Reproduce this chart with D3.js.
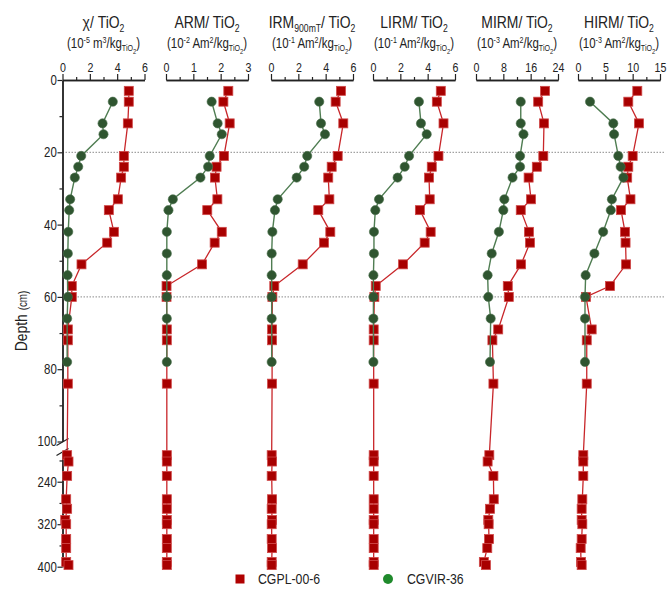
<!DOCTYPE html>
<html>
<head>
<meta charset="utf-8">
<script src="https://cdn.jsdelivr.net/npm/d3@7"></script>
<style>
  body { margin: 0; background: #fff; }
  svg text { font-family: "Liberation Sans", Arial, sans-serif; fill: #222; }
</style>
</head>
<body>
<svg id="chart" width="667" height="606"></svg>
<script>
// depths (cm)
var redDepth   = [3, 6, 12, 21, 24, 27, 33, 36, 42, 45, 51, 57, 60, 69, 72, 84, 190, 202, 229, 273, 291, 312, 320, 348, 365, 391, 397];
var greenDepth = [6, 12, 15, 21, 24, 27, 33, 36, 42, 48, 54, 60, 66, 78];

// CGPL-00-6
var redChi  = [4.85, 4.85, 4.78, 4.49, 4.49, 4.29, 4.05, 3.39, 3.76, 3.27, 1.39, 0.68, 0.68, 0.39, 0.39, 0.39, 0.34, 0.44, 0.34, 0.27, 0.34, 0.2, 0.27, 0.27, 0.27, 0.27, 0.44];
var redArm  = [2.28, 2.1, 2.33, 2.12, 1.85, 1.79, 1.88, 1.51, 2.04, 1.78, 1.32, 0.02, 0.02, 0.03, 0.03, 0.03, 0.03, 0.03, 0.03, 0.03, 0.03, 0.03, 0.03, 0.03, 0.03, 0.03, 0.03];
var redIrm  = [5.12, 4.73, 5.29, 4.88, 4.44, 4.19, 4.27, 3.46, 4.34, 3.88, 2.32, 0.24, 0.1, 0.08, 0.08, 0.08, 0.05, 0.08, 0.05, 0.08, 0.05, 0.08, 0.05, 0.05, 0.08, 0.05, 0.05];
var redLirm = [4.96, 4.67, 5.16, 4.79, 4.3, 4.1, 4.15, 3.43, 4.22, 3.78, 2.2, 0.2, 0.1, 0.05, 0.05, 0.05, 0.05, 0.05, 0.05, 0.05, 0.05, 0.05, 0.05, 0.05, 0.05, 0.05, 0.05];
var redMirm = [20.2, 18.2, 19.9, 19.7, 17.8, 15.4, 16.1, 13.1, 15.5, 15.8, 13.2, 9.3, 9.6, 6.5, 4.8, 5.1, 3.9, 3.4, 5.1, 5.2, 4.1, 3.6, 3.7, 3.8, 3.3, 2.3, 2.9];
var redHirm = [10.85, 9.2, 11.16, 10.0, 9.2, 9.0, 9.6, 7.87, 8.6, 8.7, 8.8, 5.85, 1.46, 2.5, 1.6, 1.6, 0.97, 0.97, 0.97, 0.79, 0.67, 0.67, 0.79, 0.67, 0.49, 0.55, 0.67];

// CGVIR-36
var greenChi  = [3.68, 2.93, 3.0, 1.37, 1.15, 0.9, 0.56, 0.49, 0.42, 0.39, 0.37, 0.39, 0.34, 0.34];
var greenArm  = [1.67, 1.89, 2.04, 1.6, 1.54, 1.26, 0.25, 0.09, 0.03, 0.03, 0.03, 0.03, 0.03, 0.03];
var greenIrm  = [3.53, 3.66, 3.95, 2.65, 2.43, 1.88, 0.49, 0.29, 0.1, 0.05, 0.05, 0.05, 0.05, 0.05];
var greenLirm = [3.36, 3.51, 3.93, 2.64, 2.32, 1.8, 0.44, 0.17, 0.07, 0.07, 0.03, 0.03, 0.03, 0.03];
var greenMirm = [13.1, 13.1, 13.9, 12.9, 12.9, 10.7, 8.3, 8.0, 6.7, 4.6, 3.4, 3.6, 4.3, 4.1];
var greenHirm = [2.2, 6.46, 6.6, 7.37, 7.8, 8.3, 6.2, 6.0, 4.6, 3.0, 1.4, 1.28, 1.28, 1.28];

// x axis maxima and tick labels per panel
var xMax   = [6, 3, 6, 6, 24, 15];
var xTicks = [[0, 2, 4, 6], [0, 1, 2, 3], [0, 2, 4, 6], [0, 2, 4, 6], [0, 8, 16, 24], [0, 5, 10, 15]];

// titles: [text, level] level 0 normal, 1 sup, -1 sub, -2 sub of sub
var titleTop = [
  [["χ/ TiO", 0], ["2", -1]],
  [["ARM/ TiO", 0], ["2", -1]],
  [["IRM", 0], ["900mT", -1], ["/ TiO", 0], ["2", -1]],
  [["LIRM/ TiO", 0], ["2", -1]],
  [["MIRM/ TiO", 0], ["2", -1]],
  [["HIRM/ TiO", 0], ["2", -1]]
];
var titleUnit = [
  [["(10", 0], ["-5", 1], [" m", 0], ["3", 1], ["/kg", 0], ["TiO", -1], ["2", -2], [")", 0]],
  [["(10", 0], ["-2", 1], [" Am", 0], ["2", 1], ["/kg", 0], ["TiO", -1], ["2", -2], [")", 0]],
  [["(10", 0], ["-1", 1], [" Am", 0], ["2", 1], ["/kg", 0], ["TiO", -1], ["2", -2], [")", 0]],
  [["(10", 0], ["-1", 1], [" Am", 0], ["2", 1], ["/kg", 0], ["TiO", -1], ["2", -2], [")", 0]],
  [["(10", 0], ["-3", 1], [" Am", 0], ["2", 1], ["/kg", 0], ["TiO", -1], ["2", -2], [")", 0]],
  [["(10", 0], ["-3", 1], [" Am", 0], ["2", 1], ["/kg", 0], ["TiO", -1], ["2", -2], [")", 0]]
];

var depthTicksUpper = [0, 20, 40, 60, 80, 100];
var depthMinorUpper = [10, 30, 50, 70, 90];
var depthTicksLower = [240, 320, 400];
var depthMinorLower = [200, 280, 360];
var dashedDepths = [20, 60];

var redSeries   = [redChi, redArm, redIrm, redLirm, redMirm, redHirm];
var greenSeries = [greenChi, greenArm, greenIrm, greenLirm, greenMirm, greenHirm];

// layout
var panelLeft = [62.5, 166, 271, 373, 476, 578];
var panelW = 82;
var axisX = 62.5;
var narrow = 0.82; // squeeze text horizontally, like Arial Narrow

var svg = d3.select("#chart");

// broken depth scale (polylinear)
var y = d3.scaleLinear()
  .domain([0, 100, 185, 400])
  .range([80, 441.5, 452.5, 566.7]);
var yUp = d3.scaleLinear().domain([0, 100]).range([80, 441.5]);
var yLo = d3.scaleLinear().domain([185, 400]).range([452.5, 566.7]);

function rich(sel, parts, size) {
  var cur = 0;
  parts.forEach(function(p) {
    var lvl = p[1];
    var shift = lvl == 1 ? -0.38 * size : lvl == -1 ? 0.22 * size : lvl == -2 ? 0.42 * size : 0;
    var fs = lvl == 0 ? size : lvl == -2 ? size * 0.5 : size * 0.62;
    sel.append("tspan").attr("dy", shift - cur).attr("font-size", fs).text(p[0]);
    cur = shift;
  });
}

function styleAxis(g, fs) {
  g.selectAll("path").attr("stroke", "#222").attr("stroke-width", 1.4);
  g.selectAll("line").attr("stroke", "#222").attr("stroke-width", 1.2);
  g.selectAll("text").attr("font-size", fs).attr("fill", "#222")
    .attr("transform", "scale(" + narrow + ",1)");
}

// dotted reference lines
svg.selectAll(".ref")
  .data(dashedDepths)
  .enter().append("line")
  .attr("x1", axisX).attr("x2", 665)
  .attr("y1", function(d) { return yUp(d); })
  .attr("y2", function(d) { return yUp(d); })
  .attr("stroke", "#8a8a8a")
  .attr("stroke-width", 1)
  .attr("stroke-dasharray", "1.5,1.5");

// depth axis, two parts
var gUp = svg.append("g").attr("transform", "translate(" + axisX + ",0)")
  .call(d3.axisLeft(yUp).tickValues(depthTicksUpper).tickSize(5).tickSizeOuter(0).tickPadding(2));
var gUpMinor = svg.append("g").attr("transform", "translate(" + axisX + ",0)")
  .call(d3.axisLeft(yUp).tickValues(depthMinorUpper).tickSize(3).tickSizeOuter(0).tickFormat(""));
var gLo = svg.append("g").attr("transform", "translate(" + axisX + ",0)")
  .call(d3.axisLeft(yLo).tickValues(depthTicksLower).tickSize(5).tickSizeOuter(0).tickPadding(2));
var gLoMinor = svg.append("g").attr("transform", "translate(" + axisX + ",0)")
  .call(d3.axisLeft(yLo).tickValues(depthMinorLower).tickSize(3).tickSizeOuter(0).tickFormat(""));
[gUp, gUpMinor, gLo, gLoMinor].forEach(function(g) { styleAxis(g, 14); });

// break marks
var brk = svg.append("g").attr("stroke", "#222").attr("stroke-width", 1.2);
brk.append("line").attr("x1", axisX - 6).attr("y1", yUp(100) + 4).attr("x2", axisX + 6).attr("y2", yUp(100) - 3);
brk.append("line").attr("x1", axisX - 6).attr("y1", yLo(185) + 3).attr("x2", axisX + 6).attr("y2", yLo(185) - 4);

// depth label
var dl = svg.append("text")
  .attr("transform", "translate(27,321) rotate(-90) scale(" + narrow + ",1)")
  .attr("text-anchor", "middle");
dl.append("tspan").attr("font-size", 17).text("Depth ");
dl.append("tspan").attr("font-size", 12).text("(cm)");

var lineGen = d3.line().x(function(d) { return d[0]; }).y(function(d) { return d[1]; });

panelLeft.forEach(function(left, i) {
  var x = d3.scaleLinear().domain([0, xMax[i]]).range([left, left + panelW]);
  var cx = left + panelW / 2;

  // titles
  rich(svg.append("text").attr("transform", "translate(" + cx + ",28) scale(" + narrow + ",1)")
    .attr("text-anchor", "middle"), titleTop[i], 17);
  rich(svg.append("text").attr("transform", "translate(" + cx + ",48) scale(" + narrow + ",1)")
    .attr("text-anchor", "middle"), titleUnit[i], 14);

  // top axis
  var minor = [];
  for (var k = 0; k < xTicks[i].length - 1; k++) minor.push((xTicks[i][k] + xTicks[i][k + 1]) / 2);
  var gx = svg.append("g").attr("transform", "translate(0,80)")
    .call(d3.axisTop(x).tickValues(xTicks[i]).tickFormat(d3.format("d")).tickSize(6).tickSizeOuter(0).tickPadding(2));
  var gm = svg.append("g").attr("transform", "translate(0,80)")
    .call(d3.axisTop(x).tickValues(minor).tickSize(3).tickSizeOuter(0).tickFormat(""));
  styleAxis(gx, 13);
  styleAxis(gm, 13);

  // red series
  var rd = redDepth.map(function(d, j) { return [x(redSeries[i][j]), y(d)]; });
  svg.append("path").attr("d", lineGen(rd)).attr("fill", "none")
    .attr("stroke", "#c8262a").attr("stroke-width", 1.3);
  svg.append("g").selectAll("rect").data(rd).enter().append("rect")
    .attr("x", function(d) { return d[0] - 4.5; })
    .attr("y", function(d) { return d[1] - 4.5; })
    .attr("width", 9).attr("height", 9)
    .attr("fill", "#a80000").attr("stroke", "#d04848").attr("stroke-width", 0.8);

  // green series
  var gd = greenDepth.map(function(d, j) { return [x(greenSeries[i][j]), y(d)]; });
  svg.append("path").attr("d", lineGen(gd)).attr("fill", "none")
    .attr("stroke", "#4f7d52").attr("stroke-width", 1.4);
  svg.append("g").selectAll("circle").data(gd).enter().append("circle")
    .attr("cx", function(d) { return d[0]; })
    .attr("cy", function(d) { return d[1]; })
    .attr("r", 4.6)
    .attr("fill", "#2f5530").attr("stroke", "#4a6e4b").attr("stroke-width", 0.6);
});

// legend
var leg = svg.append("g");
leg.append("rect").attr("x", 235.5).attr("y", 574.5).attr("width", 9).attr("height", 9).attr("fill", "#b00000");
leg.append("text").attr("transform", "translate(258,584) scale(" + narrow + ",1)").attr("font-size", 15).text("CGPL-00-6");
leg.append("circle").attr("cx", 388).attr("cy", 579).attr("r", 5).attr("fill", "#1f8a2c");
leg.append("text").attr("transform", "translate(407,584) scale(" + narrow + ",1)").attr("font-size", 15).text("CGVIR-36");
</script>
</body>
</html>
